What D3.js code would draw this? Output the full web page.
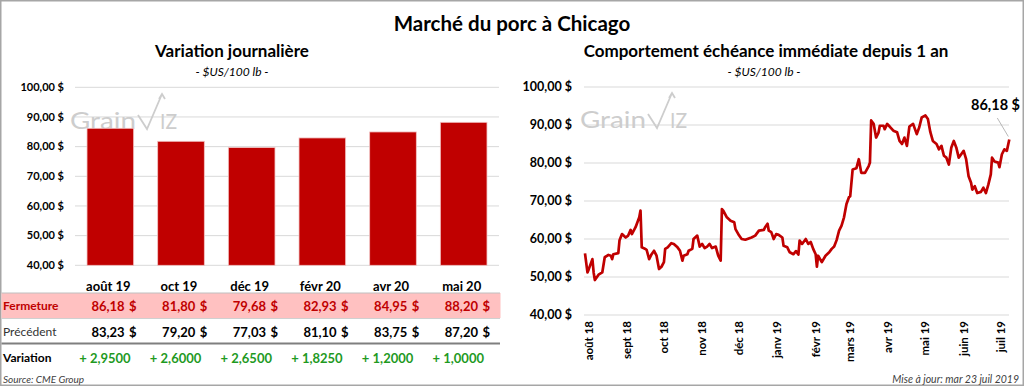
<!DOCTYPE html>
<html lang="fr">
<head>
<meta charset="utf-8">
<title>Marché du porc à Chicago</title>
<script src="https://d3js.org/d3.v7.min.js"></script>
<style>
  body { margin: 0; background: #fff; }
  svg { display: block; font-family: Lato, "Open Sans", sans-serif; }
</style>
</head>
<body>
<div id="chart"></div>
<script>
// --- données ---
var moisContrats = ["août 19", "oct 19", "déc 19", "févr 20", "avr 20", "mai 20"];
var fermeture = [86.18, 81.80, 79.68, 82.93, 84.95, 88.20];
var precedent = [83.23, 79.20, 77.03, 81.10, 83.75, 87.20];
var variation = [2.9500, 2.6000, 2.6500, 1.8250, 1.2000, 1.0000];
var yTicks = [40, 50, 60, 70, 80, 90, 100];

// échéance immédiate : jours depuis le 29 juil 2018, prix en $US/100 lb
var jours = [0, 2, 3, 6, 7, 8, 11, 14, 16, 19, 21, 22, 23, 27, 28, 30, 33, 35, 37, 38, 41, 44, 45,
  46, 49, 50, 52, 54, 56, 58, 60, 62, 64, 65, 67, 70, 72, 75, 77, 79, 80, 83, 84, 87, 88, 91, 93,
  95, 97, 99, 101, 103, 106, 108, 110, 111, 112, 115, 118, 121, 122, 125, 127, 130, 135, 138, 141,
  145, 146, 148, 149, 151, 153, 155, 157, 160, 161, 164, 166, 169, 171, 173, 174, 176, 179, 181,
  183, 185, 187, 188, 189, 192, 195, 198, 200, 202, 204, 206, 208, 210, 212, 214, 215, 217, 220,
  222, 224, 227, 230, 231, 232, 234, 236, 238, 239, 242, 243, 245, 247, 250, 253, 255, 257, 259,
  261, 263, 266, 269, 271, 273, 276, 278, 280, 282, 285, 287, 289, 291, 293, 295, 297, 299, 301,
  303, 305, 307, 309, 311, 313, 314, 316, 318, 321, 323, 325, 327, 329, 330, 332, 335, 336, 338,
  340, 342, 344];
var prix = [56.2, 51.2, 52.0, 54.7, 51.2, 49.2, 50.6, 51.2, 55.2, 55.8, 55.6, 54.7, 56.0, 56.3, 59.7,
  61.3, 60.4, 60.9, 62.4, 61.3, 63.1, 65.7, 67.5, 57.8, 57.4, 57.1, 54.7, 56.0, 56.9, 55.6, 52.1,
  52.7, 53.9, 57.4, 57.8, 58.9, 58.7, 57.8, 56.9, 54.3, 55.6, 56.0, 56.9, 57.4, 60.0, 60.9, 58.0,
  58.7, 57.6, 58.0, 58.7, 57.6, 58.0, 55.6, 54.3, 67.9, 67.5, 65.7, 64.8, 64.4, 62.6, 60.9, 60.0,
  59.8, 60.4, 60.9, 62.2, 62.4, 63.1, 64.0, 62.2, 61.8, 60.0, 61.3, 61.1, 60.4, 58.2, 57.8, 56.5,
  56.0, 56.8, 55.9, 59.6, 58.7, 60.0, 58.7, 59.2, 57.4, 56.0, 52.7, 55.6, 53.9, 55.6, 56.5, 57.4,
  58.0, 59.7, 62.2, 63.5, 65.7, 69.2, 71.0, 71.2, 78.3, 78.6, 81.0, 77.4, 77.4, 79.2, 80.1, 91.2,
  90.3, 86.7, 88.0, 89.8, 89.8, 88.9, 90.3, 89.6, 88.5, 88.1, 85.8, 85.0, 86.7, 84.5, 89.6, 90.3,
  87.6, 89.4, 92.0, 92.5, 91.6, 88.1, 85.8, 85.0, 83.6, 84.5, 81.9, 81.4, 79.6, 84.1, 85.8, 84.1,
  81.4, 82.3, 83.2, 81.0, 76.5, 74.8, 73.0, 73.9, 72.1, 72.4, 73.5, 72.1, 74.3, 77.0, 81.4, 80.4,
  80.1, 78.9, 82.3, 83.6, 83.2, 86.18];
var moisFr = ["janv", "févr", "mars", "avr", "mai", "juin", "juil", "août", "sept", "oct", "nov", "déc"];

var W = 1024, H = 387;
var rouge = "#c00000", grille = "#d9d9d9", vert = "#1f9a1f";

var svg = d3.select("#chart").append("svg")
  .attr("width", W).attr("height", H);

function prixFmt(v) { return v.toFixed(2).replace(".", ",") + " $"; }
function numFmt(v, n) { return v.toFixed(n).replace(".", ","); }

// cadre
svg.append("rect")
  .attr("x", 0.75).attr("y", 0.75).attr("width", W - 1.5).attr("height", H - 2.5)
  .attr("fill", "none").attr("stroke", "#a6a6a6").attr("stroke-width", 1.5);

// titre principal
svg.append("text")
  .attr("x", 512).attr("y", 31)
  .attr("text-anchor", "middle")
  .style("font-size", "20.5px").style("font-weight", "bold")
  .text("Marché du porc à Chicago");

// filigrane GrainWiz
function logo(g, x, y) {
  var c = "#cdcdcd";
  g.append("text")
    .attr("x", x).attr("y", y)
    .attr("fill", c)
    .attr("textLength", 66).attr("lengthAdjust", "spacingAndGlyphs")
    .style("font-size", "23px").style("font-weight", "400")
    .text("Grain");
  g.append("path")
    .attr("d", "M" + (x + 68) + "," + (y - 14) + " L" + (x + 77) + "," + y +
      " L" + (x + 92) + "," + (y - 35) + " M" + (x + 89) + "," + (y - 30) +
      " L" + (x + 92) + "," + (y - 35) + " L" + (x + 95) + "," + (y - 30))
    .attr("fill", "none").attr("stroke", c).attr("stroke-width", 1.8);
  g.append("text")
    .attr("x", x + 90).attr("y", y)
    .attr("fill", c)
    .attr("textLength", 17).attr("lengthAdjust", "spacingAndGlyphs")
    .style("font-size", "22px").style("font-weight", "400")
    .text("IZ");
}

// ---------- panneau gauche ----------
var left = svg.append("g");

left.append("text")
  .attr("x", 232).attr("y", 57).attr("text-anchor", "middle")
  .style("font-size", "17px").style("font-weight", "bold")
  .text("Variation journalière");
left.append("text")
  .attr("x", 232).attr("y", 76).attr("text-anchor", "middle")
  .style("font-size", "12px").style("font-style", "italic")
  .text("- $US/100 lb -");

var xBand = d3.scaleBand()
  .domain(moisContrats)
  .range([75, 499])
  .paddingInner(0.34)
  .paddingOuter(0.17);

var yLeft = d3.scaleLinear()
  .domain([40, 100])
  .range([265.3, 87.3]);

left.selectAll("line.grid")
  .data(yTicks)
  .enter().append("line")
  .attr("class", "grid")
  .attr("x1", 75).attr("x2", 499)
  .attr("y1", d => yLeft(d)).attr("y2", d => yLeft(d))
  .attr("stroke", grille).attr("stroke-width", 1);

left.selectAll("text.ytick")
  .data(yTicks)
  .enter().append("text")
  .attr("class", "ytick")
  .attr("x", 64).attr("y", d => yLeft(d))
  .attr("dy", "0.35em").attr("text-anchor", "end")
  .style("font-size", "11px").style("font-weight", "bold")
  .text(d => prixFmt(d));

logo(left, 70, 129);

left.selectAll("rect.bar")
  .data(fermeture)
  .enter().append("rect")
  .attr("class", "bar")
  .attr("x", (d, i) => xBand(moisContrats[i]))
  .attr("width", xBand.bandwidth())
  .attr("y", d => yLeft(d))
  .attr("height", d => yLeft(40) - yLeft(d))
  .attr("fill", rouge)
  .attr("stroke", "#f2c4c4").attr("stroke-width", 0.8);

// tableau
var rowFerm = 306, rowPrec = 332, rowVar = 358;

left.append("rect")
  .attr("x", 1.5).attr("y", 293).attr("width", 499).attr("height", 25)
  .attr("fill", "#ffc1c1");
left.append("line")
  .attr("x1", 1.5).attr("x2", 500).attr("y1", 293).attr("y2", 293)
  .attr("stroke", "#bfbfbf").attr("stroke-width", 1);
left.append("line")
  .attr("x1", 1.5).attr("x2", 500).attr("y1", 318.5).attr("y2", 318.5)
  .attr("stroke", "#d0d0d0").attr("stroke-width", 1);
left.append("line")
  .attr("x1", 1.5).attr("x2", 500).attr("y1", 343.5).attr("y2", 343.5)
  .attr("stroke", "#7f7f7f").attr("stroke-width", 2);

left.selectAll("text.mois")
  .data(moisContrats)
  .enter().append("text")
  .attr("class", "mois")
  .attr("x", d => xBand(d) + xBand.bandwidth() / 2 - 2)
  .attr("y", 286).attr("dy", "0.35em")
  .attr("text-anchor", "middle")
  .style("font-size", "13px").style("font-weight", "bold")
  .text(d => d);

function rowLabel(txt, y, color, weight) {
  left.append("text")
    .attr("x", 3).attr("y", y).attr("dy", "0.35em")
    .attr("fill", color)
    .style("font-size", "12px").style("font-weight", weight)
    .text(txt);
}
rowLabel("Fermeture", rowFerm, rouge, "bold");
rowLabel("Précédent", rowPrec, "#333", "normal");
rowLabel("Variation", rowVar, "#000", "bold");

function rowValues(vals, y, color) {
  var g = left.append("g").attr("fill", color)
    .style("font-size", "13px").style("font-weight", "bold");
  g.selectAll("text.num")
    .data(vals)
    .enter().append("text")
    .attr("x", (d, i) => xBand(moisContrats[i]) + xBand.bandwidth() - 9)
    .attr("y", y).attr("dy", "0.35em").attr("text-anchor", "end")
    .text(d => numFmt(d, 2));
  g.selectAll("text.dol")
    .data(vals)
    .enter().append("text")
    .attr("x", (d, i) => xBand(moisContrats[i]) + xBand.bandwidth() + 3)
    .attr("y", y).attr("dy", "0.35em").attr("text-anchor", "end")
    .text("$");
}
rowValues(fermeture, rowFerm, rouge);
rowValues(precedent, rowPrec, "#000");

left.selectAll("text.var")
  .data(variation)
  .enter().append("text")
  .attr("x", (d, i) => xBand(moisContrats[i]) + xBand.bandwidth() - 3)
  .attr("y", rowVar).attr("dy", "0.35em").attr("text-anchor", "end")
  .attr("fill", vert)
  .style("font-size", "13px").style("font-weight", "bold")
  .text(d => "+ " + numFmt(d, 4));

left.append("text")
  .attr("x", 3).attr("y", 379).attr("dy", "0.35em")
  .attr("fill", "#404040")
  .style("font-size", "10px").style("font-style", "italic")
  .text("Source: CME Group");

// ---------- panneau droit ----------
var right = svg.append("g");

right.append("text")
  .attr("x", 766).attr("y", 57).attr("text-anchor", "middle")
  .style("font-size", "17px").style("font-weight", "bold")
  .text("Comportement échéance immédiate depuis 1 an");
right.append("text")
  .attr("x", 764).attr("y", 76).attr("text-anchor", "middle")
  .style("font-size", "12px").style("font-style", "italic")
  .text("- $US/100 lb -");

var debut = new Date(2018, 6, 29);
var serie = jours.map((j, i) => ({ date: d3.timeDay.offset(debut, j), v: prix[i] }));

var xTime = d3.scaleTime()
  .domain([debut, d3.timeDay.offset(debut, 344)])
  .range([585, 1009.3]);
var yRight = d3.scaleLinear()
  .domain([40, 100])
  .range([315, 87]);

right.selectAll("line.grid")
  .data(yTicks)
  .enter().append("line")
  .attr("class", "grid")
  .attr("x1", 584).attr("x2", 1009)
  .attr("y1", d => yRight(d)).attr("y2", d => yRight(d))
  .attr("stroke", grille).attr("stroke-width", 1);

right.selectAll("text.ytick")
  .data(yTicks)
  .enter().append("text")
  .attr("class", "ytick")
  .attr("x", 572).attr("y", d => yRight(d))
  .attr("dy", "0.35em").attr("text-anchor", "end")
  .style("font-size", "12.5px").style("font-weight", "bold")
  .text(d => prixFmt(d));

var moisTicks = d3.timeMonth.range(new Date(2018, 7, 1), new Date(2019, 7, 1));
right.selectAll("text.xtick")
  .data(moisTicks)
  .enter().append("text")
  .attr("class", "xtick")
  .attr("transform", d => "translate(" + xTime(d) + ",321) rotate(-90)")
  .attr("dy", "0.35em").attr("text-anchor", "end")
  .style("font-size", "11.5px").style("font-weight", "bold")
  .text(d => moisFr[d.getMonth()] + " " + String(d.getFullYear()).slice(2));

logo(right, 580, 128);

var line = d3.line()
  .x(d => xTime(d.date))
  .y(d => yRight(d.v));

right.append("path")
  .datum(serie)
  .attr("d", line)
  .attr("fill", "none")
  .attr("stroke", rouge)
  .attr("stroke-width", 2.7)
  .attr("stroke-linejoin", "round");

var dernier = serie[serie.length - 1];
right.append("line")
  .attr("x1", xTime(dernier.date) - 12).attr("y1", 118)
  .attr("x2", xTime(dernier.date) - 1).attr("y2", yRight(dernier.v) - 3)
  .attr("stroke", "#a6a6a6").attr("stroke-width", 0.8);
right.append("text")
  .attr("x", 1020).attr("y", 105).attr("dy", "0.35em")
  .attr("text-anchor", "end")
  .style("font-size", "14.5px").style("font-weight", "bold")
  .text(prixFmt(dernier.v));

right.append("text")
  .attr("x", 1019).attr("y", 379).attr("dy", "0.35em")
  .attr("text-anchor", "end")
  .attr("fill", "#404040")
  .style("font-size", "10.5px").style("font-style", "italic")
  .text("Mise à jour: mar 23 juil 2019");
</script>
</body>
</html>
